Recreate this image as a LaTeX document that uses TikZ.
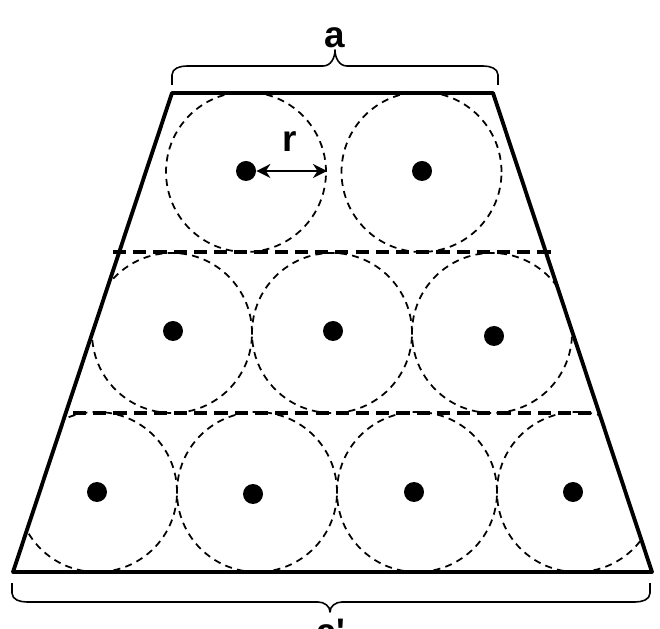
\documentclass[tikz,border=0pt]{standalone}
\usepackage{fontspec}
\usetikzlibrary{arrows.meta}
\newfontfamily\lblfont{Liberation Sans}
\begin{document}
\begin{tikzpicture}[>={Stealth[length=8pt,width=8pt]}, line join=round,
	wall/.style={line width=2.2pt},
	layer/.style={line width=2.3pt, dash pattern=on 7.5pt off 4pt},
	grain/.style={line width=1pt, dash pattern=on 4pt off 3pt},
	dot/.style={circle, fill, inner sep=0pt, minimum size=0.4cm},
	lbl/.style={font=\lblfont\bfseries\fontsize{21}{25}\selectfont, inner sep=0pt}]
	\def\rad{1.6} % ban kinh
	\def\ybot{1.12} \def\ytop{10.70}
	\useasboundingbox (0,0) rectangle (13.2,12.56);
	% cac hinh tron (chi ben trong hinh thang)
	\begin{scope}
		\clip (0.26,\ybot)--(13.04,\ybot)--(9.86,\ytop)--(3.44,\ytop)--cycle;
		\foreach \x/\y in {4.92/9.12, 8.43/9.12, 3.44/5.90, 6.64/5.90, 9.84/5.90,
			1.94/2.72, 5.14/2.72, 8.34/2.72, 11.54/2.72}
			\draw[grain] (\x,\y) circle (\rad);
	\end{scope}
	% cac lop
	\draw[layer] (2.26,7.52)--(11.06,7.52);
	\draw[layer] (1.46,4.30)--(12.00,4.30);
	% hinh thang
	\draw[wall] (0.26,\ybot)--(13.04,\ybot)--(9.86,\ytop)--(3.44,\ytop)--cycle;
	% tam
	\foreach \x/\y [count=\i] in {4.92/9.14, 8.44/9.14, 3.46/5.94, 6.66/5.94, 9.88/5.84,
		1.94/2.72, 5.06/2.68, 8.28/2.72, 11.46/2.72}
		\node[dot] (c\i) at (\x,\y) {};
	% ban kinh r
	\coordinate (e1) at (6.54,9.14);
	\draw[<->, line width=1.2pt] (c1)--(e1);
	\node[lbl] (r) at (5.80,9.72) {r};
	% ngoac tren
	\draw[line width=0.9pt] (3.44,10.86)--(3.44,11.06) to[out=90,in=180] (3.74,11.24)--(6.46,11.24)
		to[out=0,in=-90] (6.70,11.56) to[out=-90,in=180] (6.94,11.24)--(9.66,11.24)
		to[out=0,in=90] (9.96,11.06)--(9.96,10.86);
	\node[lbl] (a) at (6.70,11.80) {a};
	% ngoac duoi
	\draw[line width=0.9pt] (0.24,0.90)--(0.24,0.70) to[out=-90,in=180] (0.54,0.52)--(6.36,0.52)
		to[out=0,in=90] (6.60,0.32) to[out=90,in=180] (6.84,0.52)--(12.70,0.52)
		to[out=0,in=-90] (13.00,0.70)--(13.00,0.90);
	\node[lbl, anchor=base] (ap) at (6.62,-0.32) {a'};
\end{tikzpicture}
\end{document}
